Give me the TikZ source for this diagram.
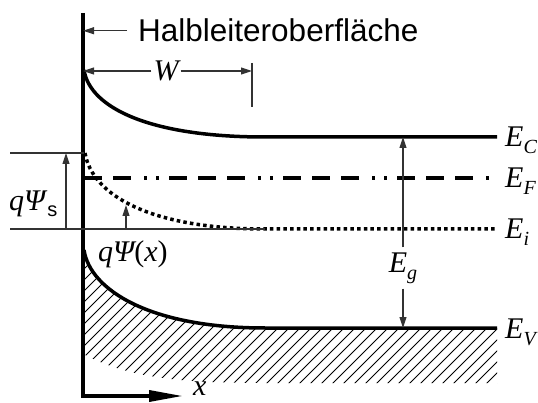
\documentclass[tikz,border=0pt]{standalone}
\usepackage{fontspec}
\setmainfont{Liberation Sans}
\newfontfamily\tms{Liberation Serif}
\usetikzlibrary{arrows.meta, positioning}
\newcommand{\mvar}[1]{{\tms\itshape #1}}
\newcommand{\elevel}[1]{\mvar{E}\raisebox{-7pt}{\fontsize{20}{20}\selectfont\mvar{#1}}}

\begin{document}
\begin{tikzpicture}[
  x=1pt, y=-1pt,
  band/.style={line width=3.5pt},
  thinline/.style={line width=1.1pt, draw=black!80},
  arrow/.style={thinline, -{Triangle[length=11pt, width=7pt]}},
  axisline/.style={line width=3.5pt, -{Triangle[length=34pt, width=11pt]}},
  hatch/.style={line width=0.8pt},
  sym/.style={inner sep=0pt, font=\fontsize{30}{36}\selectfont}
]
\useasboundingbox (0,0) rectangle (538,403);
\coordinate (ytop) at (83,13);
\coordinate (orig) at (83,396);
\coordinate (xtip) at (183,396);
\coordinate (wbar) at (252,63);
\coordinate (surfl) at (10,153);
\coordinate (surfr) at (84,153);
\coordinate (refl) at (10,229);
\coordinate (refr) at (265,229);
\coordinate (psb) at (66,229);
\coordinate (pst) at (66,153);
\coordinate (pxb) at (126,229);
\coordinate (pxt) at (126,205);
\coordinate (egc) at (403,137);
\coordinate (egv) at (403,328);

\begin{scope}
  \clip (85,250) .. controls (90,290) and (150,328) .. (265,328) -- (497,328)
    -- (497,383) -- (265,383) .. controls (180,383) and (130,378) .. (85,355) -- cycle;
  \foreach \a in {-80,-69,...,500}
    \draw[hatch] (\a,400) -- ++(160,-160);
\end{scope}

\draw[band] (84,70) .. controls (90,108) and (150,137) .. (265,137) -- (497,137);
\draw[band] (84,250) .. controls (90,290) and (150,328) .. (265,328) -- (497,328);
\draw[line width=4.5pt, dash pattern=on 18pt off 11pt on 18pt off 11pt on 18pt off 13pt on 3pt off 9pt on 3pt off 10pt, dash phase=29pt] (84,178) -- (497,178);
\draw[band, dash pattern=on 3.5pt off 3.2pt] (85,153) .. controls (92,195) and (150,229) .. (265,229) -- (497,229);

\draw[axisline] (ytop) -- (orig) -- (xtip);
\node[sym, right=10pt of xtip, yshift=7pt] (x) {\mvar{x}};

\node[inner xsep=11pt, inner ysep=0pt, anchor=base west, font=\fontsize{31.5}{36}\selectfont] (hl) at (127,42) {Halbleiteroberfläche};
\draw[arrow] (hl.west) -- (hl.west -| ytop);

\node[sym, inner xsep=2pt] (w) at (166,71) {\mvar{W}};
\draw[arrow] (w.west) -- (w.west -| ytop);
\draw[arrow] (w.east) -- (w.east -| wbar);
\draw[thinline] (wbar) -- ++(0,44);

\draw[thinline] (surfl) -- (surfr);
\draw[thinline] (refl) -- (refr);
\draw[arrow] (psb) -- (pst);
\draw[arrow] (pxb) -- (pxt);
\node[sym, anchor=base west] (psis) at (9,211) {\mvar{qΨ}\kern2pt\raisebox{-6pt}{\fontsize{20}{20}\selectfont s}};
\node[sym, anchor=base west] (psix) at (98,262) {\mvar{qΨ}{\tms(}\mvar{x}{\tms)}};

\node[sym, anchor=base west] (ec) at (505,147) {\elevel{C}};
\node[sym, anchor=base west] (ef) at (505,188) {\elevel{F}};
\node[sym, anchor=base west] (ei) at (505,239) {\elevel{i}};
\node[sym, anchor=base west] (ev) at (505,338) {\elevel{V}};

\node[sym, inner sep=5pt] (eg) at (403,268) {\elevel{g}};
\draw[arrow] (eg) -- (egc);
\draw[arrow] (eg) -- (egv);
\end{tikzpicture}
\end{document}
